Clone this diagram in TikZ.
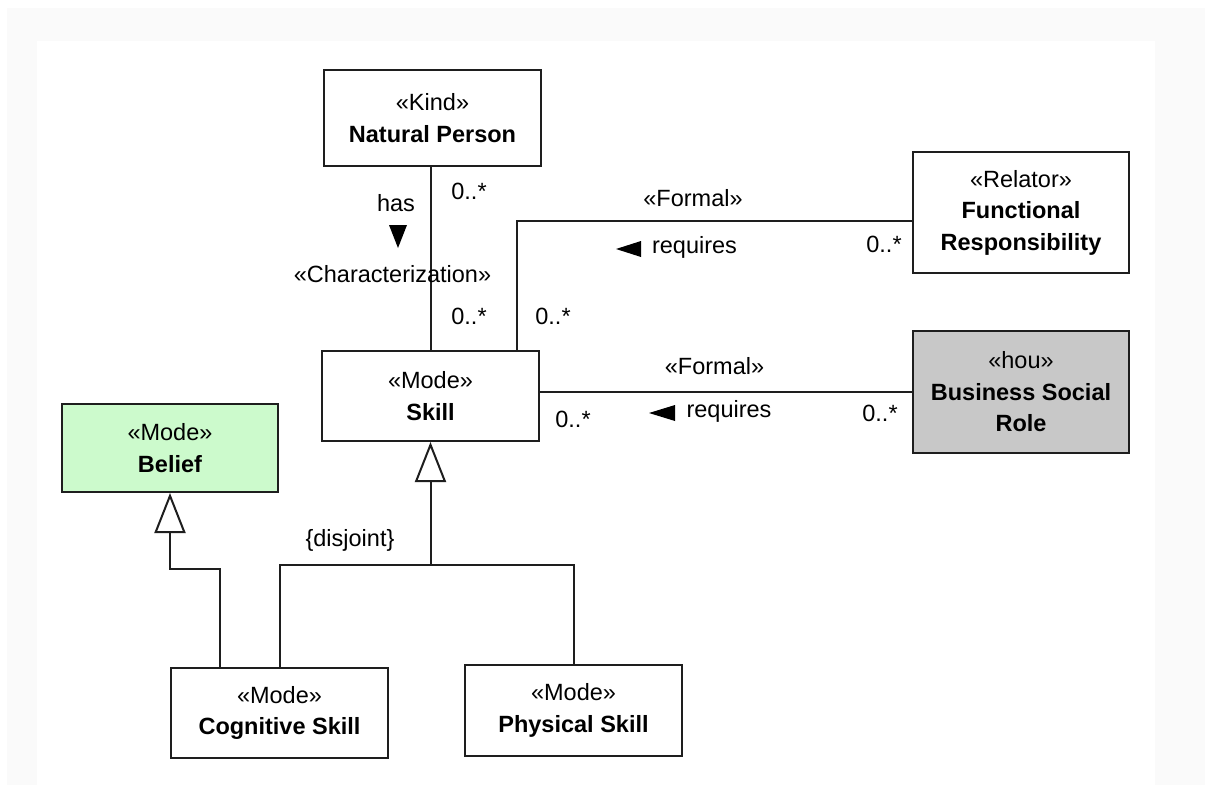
\documentclass[tikz,border=0pt]{standalone}
\usepackage{fontspec}
\setmainfont{Liberation Sans}
\usetikzlibrary{arrows.meta}
\definecolor{beliefgreen}{RGB}{204,250,204}
\definecolor{rolegray}{RGB}{200,200,200}
\definecolor{edge}{RGB}{30,30,30}
\definecolor{canvasgray}{RGB}{250,250,250}

\begin{document}
\begin{tikzpicture}[x=1pt,y=1pt,
  umlbox/.style={draw=edge, line width=2pt, fill=white, minimum width=217pt,
    minimum height=90pt, align=center, inner sep=0pt,
    font=\fontsize{23.5}{31.5}\selectfont},
  conn/.style={draw=edge, line width=2pt},
  lbl/.style={inner sep=0pt, text height=17pt, text depth=5pt,
    font=\fontsize{23.5}{28}\selectfont},
  gen/.style={conn, -{Triangle[open, fill=white, length=40pt, width=31pt]}},
  dirmark/.style={fill=black}
]
% page and canvas
\useasboundingbox (0,0) rectangle (1205,-785);
\fill[white] (0,0) rectangle (1205,-785);
\fill[canvasgray] (7,-8) rectangle (1205,-785);
\fill[white] (37,-41) rectangle (1155,-785);

% classes
\node[umlbox, minimum height=96pt] (person) at (432.5,-118) {«Kind»\\\textbf{Natural Person}};
\node[umlbox] (skill) at (430.5,-396) {«Mode»\\\textbf{Skill}};
\node[umlbox, minimum width=216pt, minimum height=121pt] (resp) at (1021,-212.5)
  {«Relator»\\\textbf{Functional}\\\textbf{Responsibility}};
\node[umlbox, minimum width=216pt, minimum height=122pt, fill=rolegray] (role) at (1021,-392)
  {«hou»\\\textbf{Business Social}\\\textbf{Role}};
\node[umlbox, minimum width=216pt, minimum height=88pt, fill=beliefgreen] (belief) at (170,-448)
  {«Mode»\\\textbf{Belief}};
\node[umlbox] (cog) at (279.5,-713) {«Mode»\\\textbf{Cognitive Skill}};
\node[umlbox, minimum height=91pt] (phys) at (573.5,-710.5) {«Mode»\\\textbf{Physical Skill}};

% associations
\draw[conn] (skill.north |- person.south) -- (skill.north);
\draw[conn] ([xshift=86.5pt]skill.north) |- ([yshift=-8.5pt]resp.west);
\draw[conn] (role.west) -- (role.west -| skill.east);

% generalizations
\coordinate (split) at (skill.south |- 0,-565);
\draw[conn] (cog.north) |- (split) -| (phys.north);
\draw[gen] (split) -- (skill.south);
\draw[gen] ([xshift=-59.5pt]cog.north) -- ++(0,98) -| (belief.south);

% association labels
\node[lbl] (hasl) at (396,-205) {has};
\fill[dirmark] (389,-225) -- (407,-225) -- (398,-248) -- cycle;
\node[lbl] (charl) at (392.5,-276) {«Characterization»};
\node[lbl] (m1) at (469,-193) {0..*};
\node[lbl] (m2) at (469,-318) {0..*};
\node[lbl] (m3) at (553,-318) {0..*};

\node[lbl] (f1) at (693,-200) {«Formal»};
\node[lbl] (r1) at (694.5,-247) {requires};
\fill[dirmark] (616,-249) -- (641,-241) -- (641,-257) -- cycle;
\node[lbl] (m4) at (884,-246) {0..*};

\node[lbl] (f2) at (714.5,-368) {«Formal»};
\node[lbl] (r2) at (729,-411) {requires};
\fill[dirmark] (649,-413) -- (675,-405) -- (675,-421) -- cycle;
\node[lbl] (m5) at (573,-421) {0..*};
\node[lbl] (m6) at (880,-415) {0..*};

\node[lbl] (dj) at (350,-540) {\{disjoint\}};
\end{tikzpicture}
\end{document}
